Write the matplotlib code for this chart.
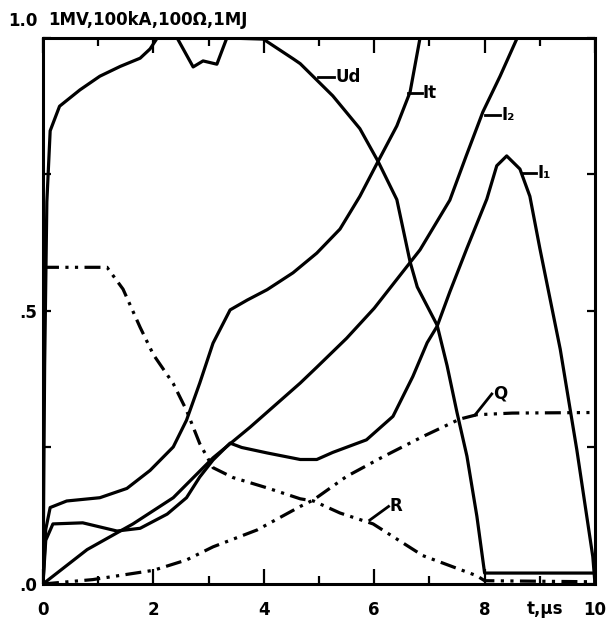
import numpy as np
import matplotlib
matplotlib.use("Agg")
import matplotlib.pyplot as plt
from matplotlib.ticker import MultipleLocator

# curves (t in microseconds, values normalised to full scale)
ud_t = [0, 0.03, 0.07, 0.13, 0.3, 0.67, 1.03, 1.4, 1.76, 1.94, 2.07, 2.3, 2.43, 2.72, 2.9,
        3.15, 3.33, 3.99, 4.53, 4.66, 5.25, 5.74, 6.07, 6.41, 6.65, 6.78, 7.14, 7.32, 7.5,
        7.68, 7.86, 8.0, 10.0]
ud_v = [0, 0.4, 0.7, 0.83, 0.875, 0.905, 0.93, 0.948, 0.963, 0.98, 1.0, 1.0, 1.0, 0.947,
        0.958, 0.952, 1.0, 0.998, 0.962, 0.953, 0.894, 0.834, 0.774, 0.704, 0.59, 0.544,
        0.474, 0.4, 0.314, 0.234, 0.124, 0.02, 0.02]

it_t = [0, 0.05, 0.13, 0.43, 1.03, 1.52, 1.94, 2.36, 2.6, 2.84, 3.08, 3.39, 3.7, 4.06,
        4.53, 4.96, 5.38, 5.74, 6.07, 6.41, 6.65, 6.83]
it_v = [0, 0.1, 0.14, 0.152, 0.158, 0.175, 0.208, 0.251, 0.3, 0.368, 0.441, 0.502, 0.52,
        0.539, 0.57, 0.606, 0.65, 0.71, 0.774, 0.839, 0.901, 1.0]

i2_t = [0, 0.8, 1.63, 2.36, 3.08, 3.75, 4.66, 4.96, 5.5, 6.0, 6.83, 7.37, 7.67, 7.97, 8.28, 8.59]
i2_v = [0, 0.063, 0.11, 0.158, 0.231, 0.287, 0.368, 0.397, 0.45, 0.505, 0.612, 0.703,
        0.785, 0.865, 0.93, 1.0]

i1_t = [0, 0.05, 0.18, 0.72, 1.34, 1.76, 2.25, 2.6, 2.84, 3.08, 3.39, 3.6, 4.06, 4.66, 4.96,
        5.25, 5.86, 6.34, 6.7, 6.96, 7.14, 7.37, 7.68, 8.04, 8.22, 8.4, 8.64, 8.82, 9.0, 9.37,
        9.67, 9.96, 10.0]
i1_v = [0, 0.08, 0.11, 0.112, 0.097, 0.102, 0.128, 0.158, 0.196, 0.227, 0.258, 0.25, 0.24,
        0.228, 0.228, 0.241, 0.264, 0.307, 0.38, 0.442, 0.472, 0.535, 0.615, 0.705, 0.766,
        0.784, 0.76, 0.71, 0.615, 0.43, 0.246, 0.05, 0.0]

r_t = [0, 1.16, 1.45, 1.76, 2.0, 2.36, 2.6, 2.84, 3.08, 3.44, 4.06, 4.66, 4.9, 5.38, 5.98,
       6.88, 7.86, 8.0, 10.0]
r_v = [0.58, 0.58, 0.54, 0.47, 0.42, 0.367, 0.318, 0.257, 0.213, 0.195, 0.176, 0.156,
       0.152, 0.13, 0.11, 0.052, 0.015, 0.006, 0.004]

q_t = [0, 0.9, 2.0, 2.6, 3.08, 3.88, 4.66, 4.9, 5.5, 6.16, 6.88, 7.55, 7.86, 8.5, 9.9]
q_v = [0, 0.008, 0.025, 0.044, 0.068, 0.099, 0.142, 0.154, 0.197, 0.233, 0.27, 0.302,
       0.31, 0.313, 0.314]

# label text, point on curve where the leader starts, and where the text sits
labels = ["Ud", "It", "I₂", "I₁", "Q", "R"]
label_at = [(4.98, 0.929), (6.61, 0.899), (8.0, 0.859), (8.68, 0.753), (7.83, 0.31), (5.92, 0.117)]
label_txt = [(5.3, 0.929), (6.88, 0.899), (8.3, 0.859), (8.96, 0.753), (8.15, 0.348), (6.28, 0.142)]

x_ticks = [0, 2, 4, 6, 8, 10]
x_ticklabels = ["0", "2", "4", "6", "8", "10"]
y_ticks = [0, 0.5]
y_ticklabels = [".0", ".5"]

plt.rcParams["font.family"] = "DejaVu Sans"
plt.rcParams["font.weight"] = "bold"

fig = plt.figure(figsize=(6.15, 6.28), dpi=100)
ax = fig.add_axes([0.0699, 0.0701, 0.8976, 0.8694])

LW = 2.3
dashdot = (0, (5, 2, 1, 2, 1, 2))
ax.plot(ud_t, ud_v, color="black", lw=LW)
ax.plot(it_t, it_v, color="black", lw=LW)
ax.plot(i2_t, i2_v, color="black", lw=LW)
ax.plot(i1_t, i1_v, color="black", lw=LW)
ax.plot(r_t, r_v, color="black", lw=LW, linestyle=dashdot)
ax.plot(q_t, q_v, color="black", lw=LW, linestyle=dashdot)

for name, p, q in zip(labels, label_at, label_txt):
    ax.plot([p[0], q[0] - 0.02], [p[1], q[1]], color="black", lw=2.0)
    ax.text(q[0], q[1], name, ha="left", va="center", fontsize=12, fontweight="bold")

ax.set_xlim(0, 10)
ax.set_ylim(0, 1)
for s in ax.spines.values():
    s.set_linewidth(2.2)

ax.set_xticks(x_ticks)
ax.set_xticklabels(x_ticklabels, fontsize=12, fontweight="bold")
ax.xaxis.set_minor_locator(MultipleLocator(1))
ax.set_yticks(y_ticks)
ax.set_yticklabels(y_ticklabels, fontsize=12, fontweight="bold")
ax.yaxis.set_minor_locator(MultipleLocator(0.25))
ax.tick_params(axis="x", which="major", direction="in", top=True, length=11, width=1.6, pad=12)
ax.tick_params(axis="x", which="minor", direction="in", top=True, length=6, width=1.6)
ax.tick_params(axis="y", which="major", direction="in", right=True, length=6, width=1.6, pad=4)
ax.tick_params(axis="y", which="minor", direction="in", right=True, length=6, width=1.6)

ax.text(9.1, -0.045, "t,µs", ha="center", va="center", fontsize=12, fontweight="bold")
ax.annotate("1.0", xy=(0, 1), xycoords="axes fraction", xytext=(-4, 12),
            textcoords="offset points", ha="right", va="center", fontsize=12, fontweight="bold")
ax.annotate("1MV,100kA,100Ω,1MJ", xy=(0, 1), xycoords="axes fraction", xytext=(4, 13),
            textcoords="offset points", ha="left", va="center", fontsize=12, fontweight="bold")

fig.savefig("out.png", dpi=100)
